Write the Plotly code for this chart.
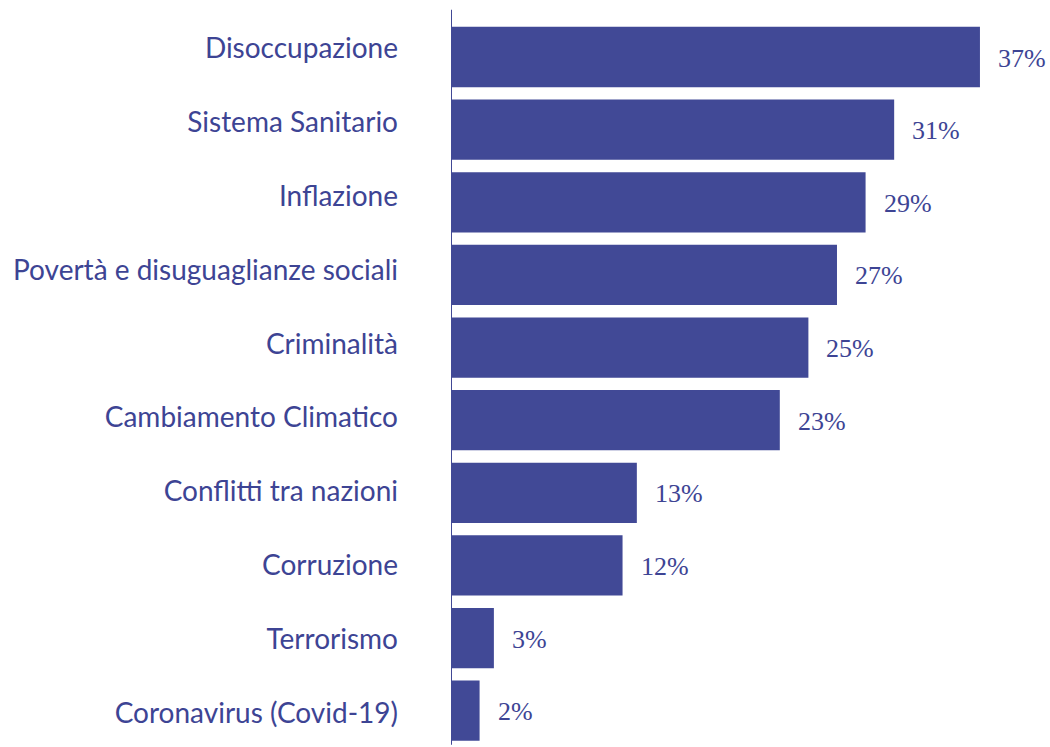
import plotly.graph_objects as go

categories = [
    "Disoccupazione",
    "Sistema Sanitario",
    "Inflazione",
    "Povertà e disuguaglianze sociali",
    "Criminalità",
    "Cambiamento Climatico",
    "Conflitti tra nazioni",
    "Corruzione",
    "Terrorismo",
    "Coronavirus (Covid-19)",
]
values = [37, 31, 29, 27, 25, 23, 13, 12, 3, 2]
value_labels = [f"{v}%" for v in values]

BAR = "#414996"
TEXT = "#3d4494"

# category names sit on a companion axis with slightly wider spacing
label_positions = list(range(len(categories)))

fig = go.Figure()
fig.add_trace(
    go.Bar(
        x=values,
        y=categories,
        orientation="h",
        marker=dict(color=BAR, line=dict(width=0)),
        hoverinfo="skip",
    )
)
fig.add_trace(
    go.Scatter(
        x=[0] * len(categories), y=label_positions, yaxis="y2",
        mode="markers", marker=dict(opacity=0, size=1),
        hoverinfo="skip",
    )
)

for cat, v, lab in zip(categories, values, value_labels):
    fig.add_annotation(
        x=v, y=cat, text=lab, showarrow=False,
        xanchor="left", yanchor="middle", xshift=16, yshift=-1,
        font=dict(family="Liberation Serif", size=26, color=TEXT),
    )

# vertical axis line on the left of the bars
fig.add_shape(
    type="line", xref="x", yref="paper",
    x0=0, x1=0, y0=0.003, y1=0.987,
    line=dict(color=BAR, width=2),
)

fig.update_layout(
    width=1050, height=747,
    margin=dict(l=451, r=0, t=0, b=0),
    paper_bgcolor="white", plot_bgcolor="white",
    showlegend=False,
    bargap=0.17,
    xaxis=dict(range=[0, 41.9], visible=False, fixedrange=True),
    yaxis=dict(
        autorange="reversed",
        domain=[0, 0.9723],
        showgrid=False, showline=False, zeroline=False,
        showticklabels=False, ticks="",
        fixedrange=True,
    ),
    yaxis2=dict(
        overlaying="y", side="left", anchor="x",
        range=[9.461, -0.3765],
        tickmode="array", tickvals=label_positions, ticktext=categories,
        showgrid=False, showline=False, zeroline=False,
        ticks="", ticklabelstandoff=52,
        tickfont=dict(family="Lato", size=28, color=TEXT),
        fixedrange=True,
    ),
)

fig.write_html("out.html")
